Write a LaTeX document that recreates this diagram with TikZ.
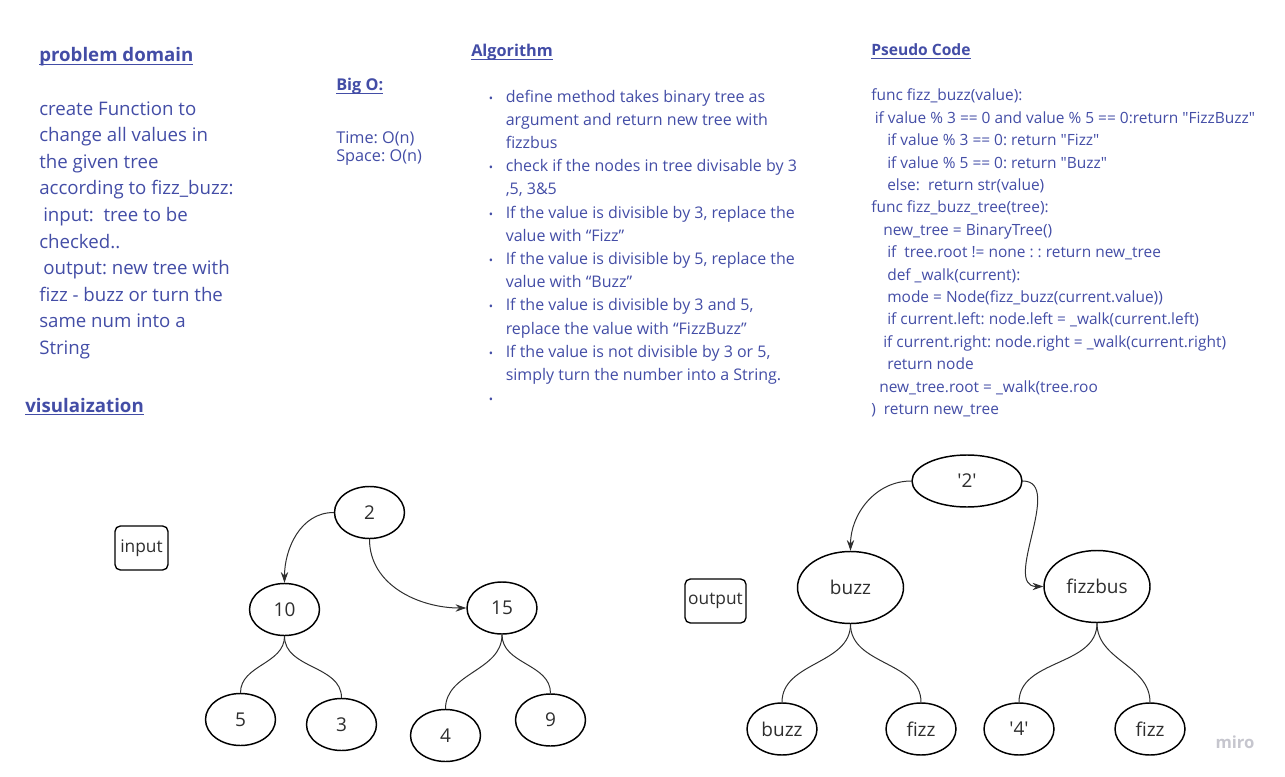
\documentclass[tikz,border=0pt]{standalone}
\usepackage{fontspec}
\setmainfont{Open Sans}
\usetikzlibrary{shapes.geometric,arrows.meta}
\definecolor{txtblue}{HTML}{434DA6}
\definecolor{ink}{HTML}{2E2E2E}
\definecolor{wm}{HTML}{C6C6CE}
\newlength\pxl \setlength\pxl{0.75pt}
\newcommand\myul[1]{\setbox0\hbox{#1}\rlap{\rule[-2.4pt]{\wd0}{0.9pt}}\box0}
\newcommand\bul{\makebox[17\pxl][l]{{\fontsize{8.5}{8}\selectfont •}}}
\newcommand\ind{\hspace*{17\pxl}}
\newcommand\dq{\textquotedbl}
\frenchspacing
\begin{document}
\begin{tikzpicture}[x=0.75pt,y=-0.75pt,
  txt/.style={anchor=base west,align=left,inner sep=0pt,text=txtblue},
  tnode/.style={ellipse,draw=black,line width=1.1pt,inner sep=0pt,text=ink,font=\fontsize{14.25}{17}\selectfont,minimum width=52.5pt,minimum height=39pt},
  bignode/.style={tnode,minimum width=79.5pt,minimum height=54pt},
  rootout/.style={tnode,minimum width=82.5pt,minimum height=39pt},
  tagbox/.style={draw=black,line width=1pt,rounded corners=4pt,inner sep=0pt,text=ink,font=\fontsize{13}{15}\selectfont,minimum height=33pt},
  link/.style={draw=ink,line width=0.75pt},
  arr/.style={link,-{Stealth[length=8pt,width=5.5pt]}}
]
\useasboundingbox (0,0) rectangle (1285,777);

% headings
\node[txt,font=\fontsize{14}{20}\selectfont\bfseries] (hpd) at (39,62) {\myul{problem domain}};
\node[txt,font=\fontsize{14}{20}\selectfont\bfseries] (hvis) at (25,412) {\myul{visulaization}};
\node[txt,font=\fontsize{12.2}{14}\selectfont\bfseries] (hbig) at (336,91) {\myul{Big O:}};
\node[txt,font=\fontsize{12.2}{14}\selectfont\bfseries] (halg) at (471,57) {\myul{Algorithm}};
\node[txt,font=\fontsize{11.7}{14}\selectfont\bfseries] (hps) at (871,56) {\myul{Pseudo Code}};

% problem domain body (anchor = last line baseline)
\node[txt,font=\fontsize{14}{19.95}\selectfont] (pd) at (39,354.5) {create Function to\\
change all values in\\
the given tree\\
according to fizz\_buzz:\\
\hspace*{4\pxl}input:~ tree to be\\
checked..\\
\hspace*{4\pxl}output: new tree with\\
fizz - buzz or turn the\\
same num into a\\
String};

% big O
\node[txt,font=\fontsize{12.2}{13.5}\selectfont] (bo) at (336,161.5) {Time: O(n)\\Space: O(n)};

% algorithm
\node[txt,font=\fontsize{12}{17.4}\selectfont] (alg) at (488.5,403.6) {\bul define method takes binary tree as\\
\ind argument and return new tree with\\
\ind fizzbus\\
\bul check if the nodes in tree divisable by 3\\
\ind ,5, 3\&5\\
\bul If the value is divisible by 3, replace the\\
\ind value with “Fizz”\\
\bul If the value is divisible by 5, replace the\\
\ind value with “Buzz”\\
\bul If the value is divisible by 3 and 5,\\
\ind replace the value with “FizzBuzz”\\
\bul If the value is not divisible by 3 or 5,\\
\ind simply turn the number into a String.\\
\bul};

% pseudo code
\node[txt,font=\fontsize{11.6}{16.8}\selectfont] (ps) at (871,414.5) {func fizz\_buzz(value):\\
\hspace*{3.5\pxl}if value \% 3 == 0 and value \% 5 == 0:return \dq FizzBuzz\dq\\
\hspace*{16\pxl}if value \% 3 == 0: return \dq Fizz\dq\\
\hspace*{16\pxl}if value \% 5 == 0: return \dq Buzz\dq\\
\hspace*{16\pxl}else:~ return str(value)\\
func fizz\_buzz\_tree(tree):\\
\hspace*{12\pxl}new\_tree = BinaryTree()\\
\hspace*{16\pxl}if~ tree.root != none : : return new\_tree\\
\hspace*{16\pxl}def \_walk(current):\\
\hspace*{16\pxl}mode = Node(fizz\_buzz(current.value))\\
\hspace*{16\pxl}if current.left: node.left = \_walk(current.left)\\
\hspace*{12\pxl}if current.right: node.right = \_walk(current.right)\\
\hspace*{16\pxl}return node\\
\hspace*{8\pxl}new\_tree.root = \_walk(tree.roo\\
)~ return new\_tree};

% input tree
\node[tagbox,minimum width=39.75pt] (inbox) at (141.5,548) {input};
\node[tnode] (i2) at (369.5,512.5) {2};
\node[tnode] (i10) at (284.5,609.5) {10};
\node[tnode] (i15) at (502,608) {15};
\node[tnode] (i5) at (240.5,719.5) {5};
\node[tnode] (i3) at (341.5,724.5) {3};
\node[tnode] (i4) at (445.5,735.5) {4};
\node[tnode] (i9) at (550.5,720) {9};
\draw[arr] (i2.west) to[out=180,in=90] (i10.north);
\draw[arr] (i2.south) to[out=-90,in=180] (i15.west);
\draw[link] (i10.south) to[out=-90,in=90] (i5.north);
\draw[link] (i10.south) to[out=-90,in=90] (i3.north);
\draw[link] (i15.south) to[out=-90,in=90] (i4.north);
\draw[link] (i15.south) to[out=-90,in=90] (i9.north);

% output tree
\node[tagbox,minimum width=45.75pt] (outbox) at (715.5,601) {output};
\node[rootout] (o2) at (967,481) {\textquotesingle 2\textquotesingle};
\node[bignode] (ob) at (850.5,587.5) {buzz};
\node[bignode] (of) at (1097,586.5) {fizzbus};
\node[tnode] (ob1) at (782,729) {buzz};
\node[tnode] (ob2) at (921,729) {fizz};
\node[tnode] (of1) at (1019,729) {\textquotesingle 4\textquotesingle};
\node[tnode] (of2) at (1150,729) {fizz};
\draw[arr] (o2.west) to[out=180,in=90] (ob.north);
\draw[arr] (o2.east) to[out=0,in=180] (of.west);
\draw[link] (ob.south) to[out=-90,in=90] (ob1.north);
\draw[link] (ob.south) to[out=-90,in=90] (ob2.north);
\draw[link] (of.south) to[out=-90,in=90] (of1.north);
\draw[link] (of.south) to[out=-90,in=90] (of2.north);

% watermark
\node[anchor=center,inner sep=0pt,text=wm,font=\fontsize{12.5}{14}\selectfont\bfseries] (wmk) at (1235,742) {miro};
\end{tikzpicture}
\end{document}
